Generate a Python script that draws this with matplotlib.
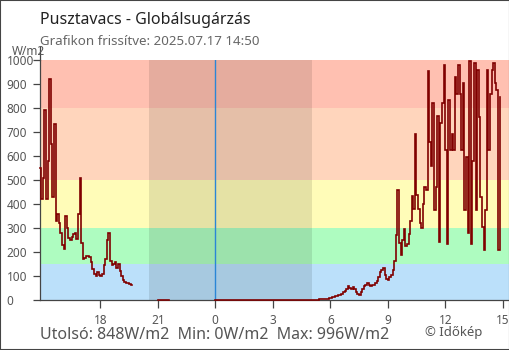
import numpy as np
import matplotlib
matplotlib.use("Agg")
import matplotlib.pyplot as plt
from matplotlib.patches import Rectangle

plt.rcParams['font.family'] = ['Noto Sans', 'DejaVu Sans']

# Global radiation, W/m2, 5-minute readings (hours relative to midnight)
evening_start = -9 - 10 / 60          # 14:50 previous day
evening_values = [
    550, 420, 510, 790, 420, 580, 920, 650, 430, 735,
    330, 360, 320, 280, 230, 215, 350, 300, 260, 250,
    265, 275, 280, 255, 360, 510, 240, 170, 175, 185,
    185, 180, 160, 130, 110, 100, 118, 105, 100, 110,
    145, 170, 250, 280, 165, 145, 150, 160, 135, 150,
    120, 100, 85, 75, 72, 70, 68, 65, 62,
]

late_start = -3.0                      # 21:00
late_values = [0, 0, 0, 0, 0, 0, 0, 0]

today_start = 0.0                      # 00:00
night_values = [0] * 60
morning_values = [
    0, 1, 2, 2, 3, 4, 4, 5, 5, 6,
    7, 8, 8, 12, 15, 17, 18, 20, 22, 28,
    33, 40, 48, 58, 50, 45, 55, 45, 35, 28,
    22, 35, 48, 58, 65, 72, 65, 60, 62, 65,
    70, 80, 95, 118, 125, 133, 105, 90, 85, 95,
    105, 125, 165, 270, 460, 240, 190, 250, 295, 225,
    235, 275, 330, 435, 380, 690, 440, 380, 320, 300,
    400, 470, 460, 955, 660, 560, 820, 375, 470, 765,
    243, 736, 820, 980, 625, 236, 833, 625, 694, 625,
    930, 860, 980, 860, 625, 903, 375, 597, 278, 996,
    236, 580, 986, 375, 958, 764, 430, 305, 208, 375,
    958, 625, 860, 958, 986, 903, 875, 208, 848,
]
today_values = night_values + morning_values

step_h = 5 / 60

bands = [0, 150, 300, 500, 800, 1000]
band_colors = ['#bbe0fa', '#aefcc0', '#fffcb8', '#ffd5bc', '#ffc0b1']

night_from, night_to = -3.46, 5.05
tick_pos = [-6, -3, 0, 3, 6, 9, 12, 15]
tick_labels = ['18', '21', '0', '3', '6', '9', '12', '15']
y_ticks = [0, 100, 200, 300, 400, 500, 600, 700, 800, 900, 1000]

title = 'Pusztavacs - Globálsugárzás'
subtitle = 'Grafikon frissítve: 2025.07.17 14:50'
stats = 'Utolsó: 848W/m2  Min: 0W/m2  Max: 996W/m2'

W, H = 510, 350
fig = plt.figure(figsize=(W / 100, H / 100), dpi=100)
ax = fig.add_axes([40.3 / W, 1 - 300.3 / H, 1 - 40.3 / W, 240.3 / H])

for lo, hi, c in zip(bands[:-1], bands[1:], band_colors):
    ax.axhspan(lo, hi, color=c, lw=0, zorder=0)
ax.axvspan(night_from, night_to, color='black', alpha=0.1, lw=0, zorder=1)
ax.axvline(0, color='#2a86d6', lw=1.0, zorder=2)

line_kw = dict(color='#800000', lw=1.2, drawstyle='steps-post', zorder=3,
               solid_joinstyle='miter', clip_on=False)
for start, vals in [(evening_start, evening_values),
                    (late_start, late_values),
                    (today_start, today_values)]:
    t = start + step_h * np.arange(len(vals))
    ax.plot(t, vals, **line_kw)

ax.set_xlim(-9.134, 15.38)
ax.set_ylim(0, 1000)

for s in ['top', 'right']:
    ax.spines[s].set_visible(False)
for s in ['left', 'bottom']:
    ax.spines[s].set_color('#444444')
    ax.spines[s].set_linewidth(0.9)
    ax.spines[s].set_zorder(2.5)
ax.plot([0, 0], [1, 1.055], transform=ax.transAxes, clip_on=False,
        color='#444444', lw=0.9)

ax.set_xticks(tick_pos)
ax.set_xticklabels(tick_labels)
ax.set_yticks(y_ticks)
ax.set_yticklabels([str(v) for v in y_ticks])
ax.tick_params(axis='x', length=5.8, width=0.9, color='#444444', pad=4,
               labelsize=8.5, labelcolor='#555555')
ax.tick_params(axis='y', length=5, width=0.9, color='#444444', pad=19.4,
               labelsize=8.5, labelcolor='#555555')
for lab in ax.get_yticklabels():
    lab.set_horizontalalignment('left')

fig.text(12 / W, 1 - 55 / H, 'W/m2', fontsize=8.5, color='#555555', va='baseline')
fig.text(40 / W, 1 - 24 / H, title, fontsize=11.5, color='#222222', va='baseline')
fig.text(40 / W, 1 - 45 / H, subtitle, fontsize=9.6, color='#666666', va='baseline')
fig.text(40 / W, 1 - 339 / H, stats, fontsize=11.5, color='#555555', va='baseline')
fig.text(425 / W, 1 - 336 / H, '© Időkép', fontsize=9.5, color='#555555', va='baseline')

fig.add_artist(Rectangle((0, 0), 1, 1, transform=fig.transFigure, fill=False,
                         ec='#444444', lw=1.5))

fig.savefig('out.png', dpi=100)
